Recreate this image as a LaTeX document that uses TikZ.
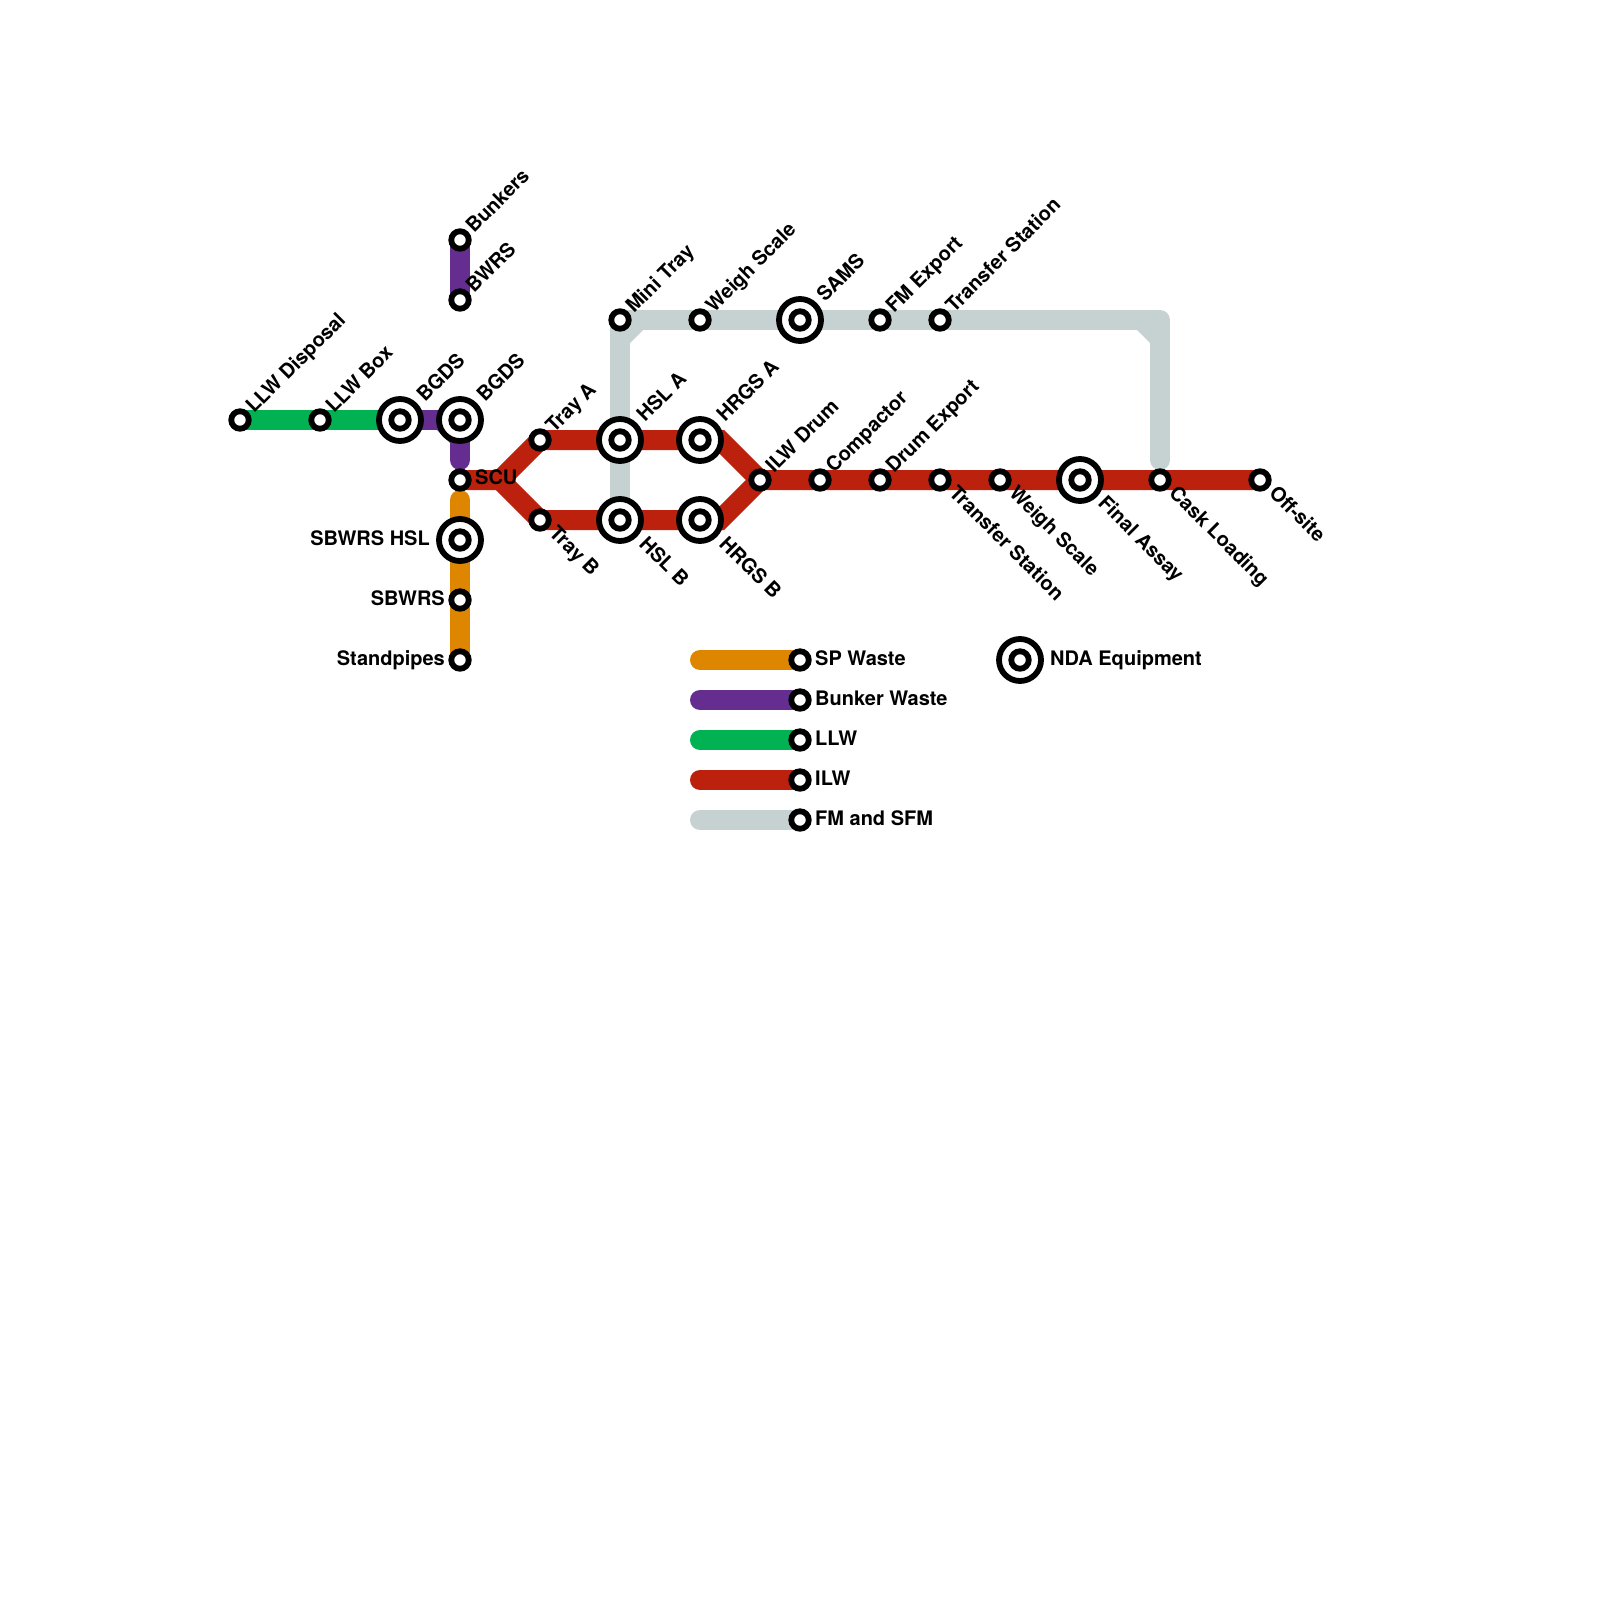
\documentclass[tikz,border=0pt]{standalone}
\usepackage{fontspec}
\setmainfont{TeX Gyre Heros}
\usetikzlibrary{backgrounds}
\definecolor{cOrange}{HTML}{DF8600}
\definecolor{cPurple}{HTML}{662D91}
\definecolor{cGreen}{HTML}{00B251}
\definecolor{cRed}{HTML}{BC210E}
\definecolor{cGray}{HTML}{C6D1D1}
\tikzset{
  x=1pt,y=-1pt,
  st/.style={circle,draw=black,fill=white,line width=5.8pt,minimum size=17.5pt,inner sep=0pt},
  bigst/.style={circle,draw=black,fill=white,line width=5.8pt,minimum size=42pt,inner sep=0pt},
  lbl/.style={inner sep=0pt,font=\fontsize{20}{24}\selectfont\bfseries},
  up/.style={lbl,rotate=45,anchor=base west},
  dn/.style={lbl,rotate=-45,anchor=base west},
  lft/.style={lbl,anchor=base east},
  rgt/.style={lbl,anchor=base west},
  route/.style={line width=20pt,line join=round,line cap=round},
  bendroute/.style={line width=20pt,line join=miter,line cap=butt},
}
\newcommand{\bigstation}[2]{\node[bigst] (#1) at #2 {}; \node[st] (#1in) at (#1.center) {};}
\begin{document}
\begin{tikzpicture}
\useasboundingbox (0,0) rectangle (1600,1600);
% stations
\node[st] (lld) at (240,420) {};
\node[st] (llb) at (320,420) {};
\bigstation{bg1}{(400,420)}
\bigstation{bg2}{(460,420)}
\node[st] (bun) at (460,240) {};
\node[st] (bwr) at (460,300) {};
\node[st] (scu) at (460,480) {};
\bigstation{shs}{(460,540)}
\node[st] (sbw) at (460,600) {};
\node[st] (stp) at (460,660) {};
\node[st] (tra) at (540,440) {};
\node[st] (trb) at (540,520) {};
\bigstation{hsa}{(620,440)}
\bigstation{hsb}{(620,520)}
\bigstation{hra}{(700,440)}
\bigstation{hrb}{(700,520)}
\node[st] (ild) at (760,480) {};
\node[st] (cmp) at (820,480) {};
\node[st] (dre) at (880,480) {};
\node[st] (tsl) at (940,480) {};
\node[st] (wsl) at (1000,480) {};
\bigstation{fas}{(1080,480)}
\node[st] (csk) at (1160,480) {};
\node[st] (off) at (1260,480) {};
\node[st] (mtr) at (620,320) {};
\node[st] (wsu) at (700,320) {};
\bigstation{sam}{(800,320)}
\node[st] (fme) at (880,320) {};
\node[st] (tsu) at (940,320) {};
\node[st] (k1) at (800,660) {};
\node[st] (k2) at (800,700) {};
\node[st] (k3) at (800,740) {};
\node[st] (k4) at (800,780) {};
\node[st] (k5) at (800,820) {};
\bigstation{k6}{(1020,660)}
% free ends and bends
\coordinate (gEndA) at (620,500);
\coordinate (gEndB) at (1160,460);
\coordinate (gCorner) at (1160,320);
\coordinate (pEnd) at (460,460);
\coordinate (oEnd) at (460,500);
\coordinate (rFork) at (500,480);
\coordinate (rA) at (720,440);
\coordinate (rB) at (720,520);
\coordinate (l1) at (700,660);
\coordinate (l2) at (700,700);
\coordinate (l3) at (700,740);
\coordinate (l4) at (700,780);
\coordinate (l5) at (700,820);
\begin{scope}[on background layer]
  % FM and SFM
  \draw[route,cGray] (gEndA) -- (mtr.center) -- (gCorner) -- (gEndB);
  \fill[cGray] (643,330) -- (630,330) -- (630,343) -- cycle;
  \fill[cGray] (1137,330) -- (1150,330) -- (1150,343) -- cycle;
  % LLW
  \draw[route,cGreen] (lld.center) -- (llb.center) -- (bg1.center);
  % Bunker waste
  \draw[route,cPurple] (bun.center) -- (bwr.center);
  \draw[route,cPurple] (bg1.center) -- (bg2.center) -- (pEnd);
  \fill[cPurple] (437,430) -- (450,430) -- (450,443) -- cycle;
  % SP waste
  \draw[route,cOrange] (oEnd) -- (shs.center) -- (sbw.center) -- (stp.center);
  % ILW
  \draw[bendroute,cRed] (scu.center) -- (rFork) -- (tra.center) -- (hsa.center) -- (rA) -- (ild.center) -- (off.center);
  \draw[bendroute,cRed] (rFork) -- (trb.center) -- (hsb.center) -- (rB) -- (ild.center);
  % key
  \draw[route,cOrange] (l1) -- (k1.center);
  \draw[route,cPurple] (l2) -- (k2.center);
  \draw[route,cGreen] (l3) -- (k3.center);
  \draw[route,cRed] (l4) -- (k4.center);
  \draw[route,cGray] (l5) -- (k5.center);
\end{scope}
% labels
\node[up] (t1) at (254,414) {LLW Disposal};
\node[up] (t2) at (334,414) {LLW Box};
\node[up] (t3) at (425,403) {BGDS};
\node[up] (t4) at (485,403) {BGDS};
\node[up] (t5) at (474,234) {Bunkers};
\node[up] (t6) at (474,294) {BWRS};
\node[up] (t7) at (554,434) {Tray A};
\node[up] (t8) at (645,423) {HSL A};
\node[up] (t9) at (725,423) {HRGS A};
\node[up] (t10) at (774,474) {ILW Drum};
\node[up] (t11) at (834,474) {Compactor};
\node[up] (t12) at (894,474) {Drum Export};
\node[up] (t13) at (634,314) {Mini Tray};
\node[up] (t14) at (714,314) {Weigh Scale};
\node[up] (t15) at (825,303) {SAMS};
\node[up] (t16) at (894,314) {FM Export};
\node[up] (t17) at (954,314) {Transfer Station};
\node[dn] (t18) at (548,534) {Tray B};
\node[dn] (t19) at (638,545) {HSL B};
\node[dn] (t20) at (718,545) {HRGS B};
\node[dn] (t21) at (948,494) {Transfer Station};
\node[dn] (t22) at (1008,494) {Weigh Scale};
\node[dn] (t23) at (1097,504) {Final Assay};
\node[dn] (t24) at (1168,494) {Cask Loading};
\node[dn] (t25) at (1268,494) {Off-site};
\node[rgt] (t26) at (475,484.5) {SCU};
\node[lft] (t27) at (430,545) {SBWRS HSL};
\node[lft] (t28) at (445,605) {SBWRS};
\node[lft] (t29) at (445,665) {Standpipes};
\node[rgt] (t30) at (815,665) {SP Waste};
\node[rgt] (t31) at (815,705) {Bunker Waste};
\node[rgt] (t32) at (815,745) {LLW};
\node[rgt] (t33) at (815,785) {ILW};
\node[rgt] (t34) at (815,825) {FM and SFM};
\node[rgt] (t35) at (1050,665) {NDA Equipment};
\end{tikzpicture}
\end{document}
